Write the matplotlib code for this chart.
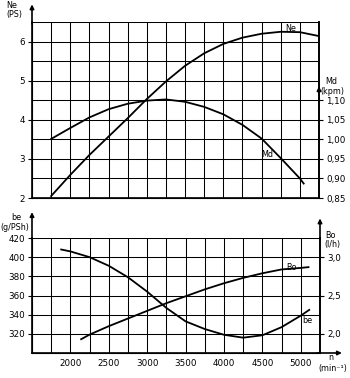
import matplotlib
matplotlib.use("Agg")
import matplotlib.pyplot as plt
import numpy as np

# engine speed (min^-1)
rpm_top = [1750, 2000, 2250, 2500, 2750, 3000, 3250, 3500, 3750, 4000, 4250, 4500, 4750, 5000, 5250]
ne_ps = [2.05, 2.59, 3.10, 3.57, 4.04, 4.53, 4.98, 5.38, 5.70, 5.94, 6.10, 6.20, 6.25, 6.24, 6.14]

rpm_md = [1750, 2000, 2250, 2500, 2750, 3000, 3250, 3500, 3750, 4000, 4250, 4500, 4750, 5000, 5050]
md_kpm = [1.001, 1.029, 1.056, 1.077, 1.091, 1.099, 1.102, 1.096, 1.083, 1.064, 1.037, 1.002, 0.952, 0.900, 0.887]

rpm_be = [1880, 2000, 2250, 2500, 2750, 3000, 3250, 3500, 3750, 4000, 4250, 4500, 4750, 5000, 5110]
be_g = [408, 406, 400, 391, 379, 364, 347, 333, 325, 319, 316, 318.5, 327, 339, 345]

rpm_bo = [2140, 2250, 2500, 2750, 3000, 3250, 3500, 3750, 4000, 4250, 4500, 4750, 5000, 5100]
bo_lh = [1.93, 1.99, 2.10, 2.20, 2.30, 2.40, 2.49, 2.58, 2.66, 2.73, 2.79, 2.84, 2.86, 2.87]

ne_ticks = [2, 3, 4, 5, 6]
md_ticks = [0.85, 0.90, 0.95, 1.00, 1.05, 1.10]
be_ticks = [320, 340, 360, 380, 400, 420]
bo_ticks = [2.0, 2.5, 3.0]
n_ticks = [2000, 2500, 3000, 3500, 4000, 4500, 5000]

W, H = 350, 378
fig = plt.figure(figsize=(W / 100, H / 100), dpi=100)
fs = 6.3
lw_axis = 1.2
lw_grid = 0.75
lw_curve = 1.3

def px_axes(x0, y0, x1, y1):
	return fig.add_axes([x0 / W, 1 - y1 / H, (x1 - x0) / W, (y1 - y0) / H])

def arrow(ax, p0, p1):
	ax.annotate('', xy=p1, xytext=p0, xycoords='axes fraction',
				arrowprops=dict(arrowstyle='-|>', lw=lw_axis, color='k',
								mutation_scale=6, shrinkA=0, shrinkB=0))

def style(ax):
	ax.spines['top'].set_visible(False)
	for s in ['left', 'right', 'bottom']:
		ax.spines[s].set_linewidth(lw_axis)
	ax.set_xlim(1500, 5250)
	ax.set_xticks(n_ticks)
	ax.set_xticks(np.arange(1750, 5251, 250), minor=True)
	ax.tick_params(axis='x', which='both', length=0, labelsize=fs, pad=4)
	ax.tick_params(axis='y', direction='out', length=3, width=0.8, labelsize=fs, pad=2)
	ax.grid(True, which='both', axis='x', color='k', lw=lw_grid)

# --- top panel: Ne and Md ---
ax1 = px_axes(32, 22, 319, 198)
style(ax1)
ax1.set_ylim(2, 6.5)
ax1.set_yticks(ne_ticks)
ax1.set_yticklabels([str(t) for t in ne_ticks])
ax1.set_yticks(np.arange(2.5, 6.51, 0.5), minor=True)
ax1.tick_params(axis='y', which='minor', length=0)
ax1.grid(True, which='both', axis='y', color='k', lw=lw_grid)
ax1.set_xticklabels([])
ax1.plot(rpm_top, ne_ps, color='k', lw=lw_curve)
ax1.text(4880, 6.33, 'Ne', fontsize=fs - 0.5, ha='center', va='center')
ax1.text(4570, 3.1, 'Md', fontsize=fs - 0.5, ha='center', va='center')

ax1r = ax1.twinx()
ax1r.spines['top'].set_visible(False)
ax1r.spines['right'].set_linewidth(lw_axis)
ax1r.set_ylim(0.85, 1.30)
ax1r.set_yticks(md_ticks)
ax1r.set_yticklabels([('%.2f' % t).replace('.', ',') for t in md_ticks])
ax1r.tick_params(axis='y', direction='out', length=3, width=0.8, labelsize=fs, pad=2)
ax1r.plot(rpm_md, md_kpm, color='k', lw=lw_curve)
arrow(ax1, (0, 0.99), (0, 1.10))
arrow(ax1r, (1, 0.55), (1, 0.635))

# --- bottom panel: be and Bo ---
ax2 = px_axes(32, 238, 320, 353)
style(ax2)
ax2.set_ylim(300, 420)
ax2.set_yticks(be_ticks)
ax2.grid(True, which='major', axis='y', color='k', lw=lw_grid)
ax2.plot(rpm_be, be_g, color='k', lw=lw_curve)
ax2.text(5090, 334, 'be', fontsize=fs - 0.5, ha='center', va='center')
ax2.text(4880, 389.5, 'Bo', fontsize=fs - 0.5, ha='center', va='center')

ax2r = ax2.twinx()
ax2r.spines['top'].set_visible(False)
ax2r.spines['right'].set_linewidth(lw_axis)
ax2r.set_ylim(1.75, 3.25)
ax2r.set_yticks(bo_ticks)
ax2r.set_yticklabels([('%.1f' % t).replace('.', ',') for t in bo_ticks])
ax2r.tick_params(axis='y', direction='out', length=3, width=0.8, labelsize=fs, pad=2)
ax2r.plot(rpm_bo, bo_lh, color='k', lw=lw_curve)
arrow(ax2, (0, 0.99), (0, 1.225))
arrow(ax2r, (1, 0.99), (1, 1.17))
arrow(ax2, (0.99, 0), (1.076, 0))

# axis titles
def ptext(x, y, s, **kw):
	fig.text(x / W, 1 - y / H, s, fontsize=fs - 0.5, ha='center', va='center', **kw)

ptext(12, 5, 'Ne')
ptext(14, 14, '(PS)')
ptext(16, 218, 'be')
ptext(15, 227, '(g/PSh)')
ptext(331, 82, 'Md')
ptext(332, 92, '(kpm)')
ptext(331, 235, 'Bo')
ptext(332, 245, '(l/h)')
ptext(331, 358, 'n')
ptext(333, 369, '(min⁻¹)')

fig.savefig('out.png', dpi=100)
